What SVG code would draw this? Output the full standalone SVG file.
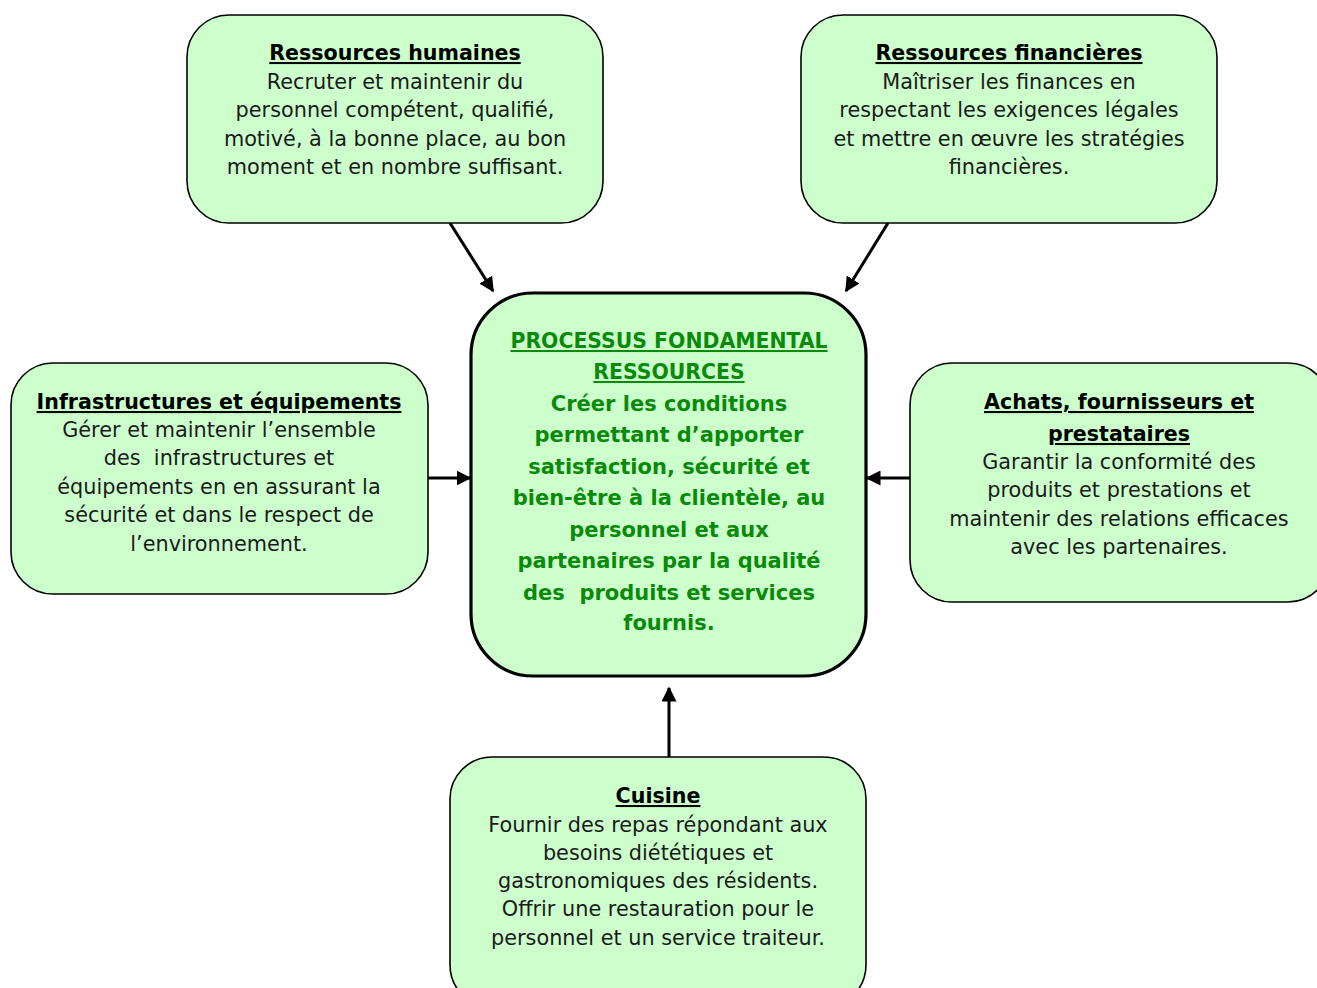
<svg xmlns="http://www.w3.org/2000/svg" width="1317" height="988" viewBox="0 0 1317 988">
<defs>
<style>
.box{fill:#CCFFCC;stroke:#000;stroke-width:1.6}
.main{fill:#CCFFCC;stroke:#000;stroke-width:3.2}
.t{font-family:"DejaVu Sans",sans-serif;font-size:20.6px;font-weight:bold;text-decoration:underline;fill:#000;text-anchor:middle}
.b{font-family:"DejaVu Sans",sans-serif;font-size:20.8px;fill:#1a1a1a;text-anchor:middle}
.g{font-family:"DejaVu Sans",sans-serif;font-size:21px;font-weight:bold;fill:#0a8a0a;text-anchor:middle}
.gu{text-decoration:underline;font-size:20.4px}
.c{stroke:#000;stroke-width:3;fill:none;marker-end:url(#ah)}
</style>
<marker id="ah" viewBox="0 0 10 10" refX="9" refY="5" markerWidth="5" markerHeight="5" orient="auto" markerUnits="strokeWidth">
<path d="M0,0 L10,5 L0,10 z" fill="#000"/>
</marker>
</defs>
<rect width="1317" height="988" fill="#fff"/>
<g id="connectors">
<line class="c" x1="450" y1="223" x2="493" y2="291"/>
<line class="c" x1="888" y1="223" x2="846" y2="291"/>
<line class="c" x1="428" y1="478" x2="470" y2="478"/>
<line class="c" x1="910" y1="478" x2="867" y2="478"/>
<line class="c" x1="669" y1="757" x2="669" y2="688"/>
</g>
<g id="rh">
<rect class="box" x="187" y="15" width="416" height="208" rx="42"/>
<text class="t" x="395" y="60">Ressources humaines</text>
<text class="b" x="395" y="89">Recruter et maintenir du</text>
<text class="b" x="395" y="117">personnel compétent, qualifié,</text>
<text class="b" x="395" y="146">motivé, à la bonne place, au bon</text>
<text class="b" x="395" y="174">moment et en nombre suffisant.</text>
</g>
<g id="rf">
<rect class="box" x="801" y="15" width="416" height="208" rx="42"/>
<text class="t" x="1009" y="60">Ressources financières</text>
<text class="b" x="1009" y="89">Maîtriser les finances en</text>
<text class="b" x="1009" y="117">respectant les exigences légales</text>
<text class="b" x="1009" y="146">et mettre en œuvre les stratégies</text>
<text class="b" x="1009" y="174">financières.</text>
</g>
<g id="infra">
<rect class="box" x="11" y="363" width="417" height="231" rx="42"/>
<text class="t" x="219" y="409">Infrastructures et équipements</text>
<text class="b" x="219" y="437">Gérer et maintenir l’ensemble</text>
<text class="b" x="219" y="465" xml:space="preserve">des  infrastructures et</text>
<text class="b" x="219" y="494">équipements en en assurant la</text>
<text class="b" x="219" y="522">sécurité et dans le respect de</text>
<text class="b" x="219" y="551">l’environnement.</text>
</g>
<g id="achats">
<rect class="box" x="910" y="363" width="420" height="239" rx="42"/>
<text class="t" x="1119" y="409">Achats, fournisseurs et</text>
<text class="t" x="1119" y="441">prestataires</text>
<text class="b" x="1119" y="469">Garantir la conformité des</text>
<text class="b" x="1119" y="497">produits et prestations et</text>
<text class="b" x="1119" y="526">maintenir des relations efficaces</text>
<text class="b" x="1119" y="554">avec les partenaires.</text>
</g>
<g id="center">
<rect class="main" x="471" y="293" width="395" height="383" rx="62"/>
<text class="g gu" x="669" y="348">PROCESSUS FONDAMENTAL</text>
<text class="g gu" x="669" y="379">RESSOURCES</text>
<text class="g" x="669" y="411">Créer les conditions</text>
<text class="g" x="669" y="442">permettant d’apporter</text>
<text class="g" x="669" y="474">satisfaction, sécurité et</text>
<text class="g" x="669" y="505">bien-être à la clientèle, au</text>
<text class="g" x="669" y="537">personnel et aux</text>
<text class="g" x="669" y="568">partenaires par la qualité</text>
<text class="g" x="669" y="600" xml:space="preserve">des  produits et services</text>
<text class="g" x="669" y="630">fournis.</text>
</g>
<g id="cuisine">
<rect class="box" x="450" y="757" width="416" height="250" rx="42"/>
<text class="t" x="658" y="803">Cuisine</text>
<text class="b" x="658" y="832">Fournir des repas répondant aux</text>
<text class="b" x="658" y="860">besoins diététiques et</text>
<text class="b" x="658" y="888">gastronomiques des résidents.</text>
<text class="b" x="658" y="916">Offrir une restauration pour le</text>
<text class="b" x="658" y="945">personnel et un service traiteur.</text>
</g>
</svg>
